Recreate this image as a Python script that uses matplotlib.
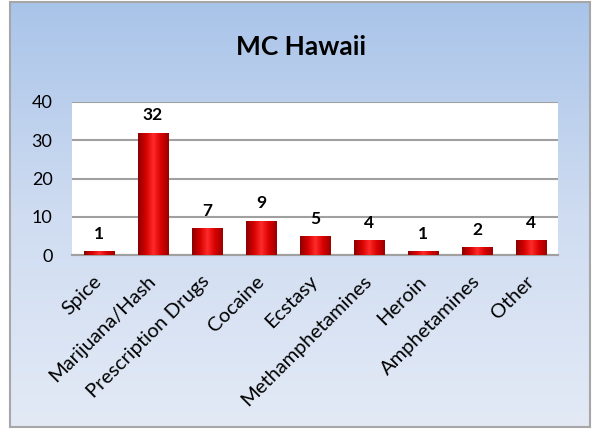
import numpy as np
import matplotlib
matplotlib.use('Agg')
import matplotlib.pyplot as plt
from matplotlib.patches import Rectangle
from matplotlib.colors import LinearSegmentedColormap

# Data
categories = ['Spice', 'Marijuana/Hash', 'Prescription Drugs', 'Cocaine', 'Ecstasy',
              'Methamphetamines', 'Heroin', 'Amphetamines', 'Other']
counts = [1, 32, 7, 9, 5, 4, 1, 2, 4]
yticks = [0, 10, 20, 30, 40]

plt.rcParams['font.family'] = ['Lato', 'DejaVu Sans']

W, H = 592, 429
fig = plt.figure(figsize=(W / 100, H / 100), dpi=100)
fig.patch.set_facecolor('white')

# background panel with vertical gradient and grey border
bg = fig.add_axes([0, 0, 1, 1], zorder=-10)
bg.set_xlim(0, W)
bg.set_ylim(H, 0)
bg.axis('off')
grad = np.linspace(0, 1, 256).reshape(-1, 1)
bg_cmap = LinearSegmentedColormap.from_list('bgc', ['#a9c4e9', '#cfdcf1', '#e3eaf6'])
frame = Rectangle((10, 2), 580, 425, facecolor='none', edgecolor='#a6a6a6', lw=1.5)
bg.imshow(grad, cmap=bg_cmap, aspect='auto', extent=(10, 590, 427, 2), zorder=0)
bg.add_patch(frame)

# plot area
ax = fig.add_axes([72 / W, 1 - 255 / H, 486 / W, 153 / H])
ax.set_facecolor('white')
x = np.arange(len(categories))
bars = ax.bar(x, counts, width=0.56, color='#c80000', edgecolor='#8a0000', linewidth=0.6, zorder=3)

# horizontal shading inside each bar to look rounded
bar_cmap = LinearSegmentedColormap.from_list(
    'barc', ['#8c0000', '#d40000', '#ff2a2a', '#d80000', '#9a0000'])
hgrad = np.linspace(0, 1, 128).reshape(1, -1)
for b in bars:
    im = ax.imshow(hgrad, cmap=bar_cmap, aspect='auto', zorder=4,
                   extent=(b.get_x(), b.get_x() + b.get_width(), 0, b.get_height()))
    im.set_clip_path(b)

for xi, v in zip(x, counts):
    ax.text(xi, v + 2.4, str(v), ha='center', va='bottom', fontsize=12.5, fontweight='bold', zorder=5)

ax.set_xlim(-0.5, len(categories) - 0.5)
ax.set_ylim(0, 40)
ax.set_yticks(yticks)
ax.yaxis.grid(True, color='#a0a0a0', linewidth=1.5, zorder=0)
ax.set_axisbelow(True)
for s in ['left', 'right', 'top']:
    ax.spines[s].set_visible(False)
ax.spines['bottom'].set_color('#a0a0a0')
ax.spines['bottom'].set_linewidth(1.5)
ax.tick_params(axis='y', length=0, labelsize=13, pad=14)
ax.set_xticks(x)
ax.set_xticklabels(categories, rotation=45, ha='right', va='center',
                   rotation_mode='anchor', fontsize=14.5)
ax.tick_params(axis='x', length=0, pad=17)

fig.text(301 / W, 1 - 47 / H, 'MC Hawaii', ha='center', va='center', fontsize=19, fontweight='bold')

fig.savefig('out.png', dpi=100)
